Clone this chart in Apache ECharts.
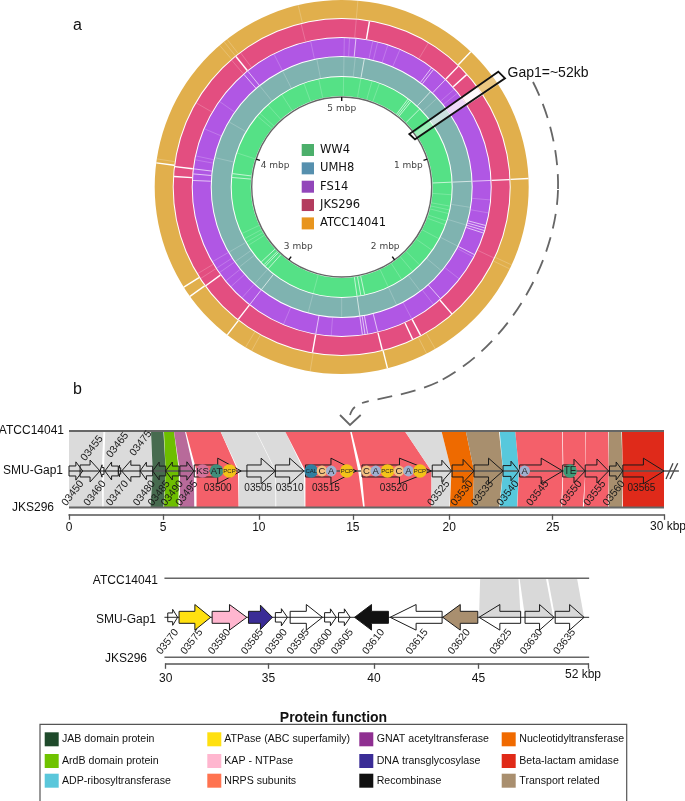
<!DOCTYPE html>
<html><head><meta charset="utf-8">
<style>html,body{margin:0;padding:0;background:#fff}#c{width:685px;height:801px}</style>
<script src="https://cdn.jsdelivr.net/npm/echarts@6/dist/echarts.min.js"></script>
</head><body><div id="c"></div>
<script>
// ---------- panel a: genome rings ----------
const ringNames = ['WW4','UMH8','FS14','JKS296','ATCC14041'];
const ringInner = [91,111,131,150,169];
const ringOuter = [110,130,149,168,187];
const mbpTicks = [1,2,3,4,5];
// gap positions on each ring, mbp (strong = clean white gap, faint = pale stripe)
const ww4Strong = [.514,.528,.542,.625,1.215,2.333,2.361,2.389,3.083,3.111,3.125,3.153,3.847,3.819];
const ww4Faint = [.014,.139,.222,.278,1.306,1.389,1.417,1.444,1.5,1.528,1.639,1.736,1.875,1.944,2.042,2.153,2.708,3.306,3.333,3.361,3.403,4.0,4.306,4.333,4.417,4.542,4.722,4.833];
const umh8Strong = [.139,.597,1.215,2.389,3.028];
const umh8Faint = [.014,.083,.653,1.375,1.486,1.625,1.806,1.986,2.153,2.5,2.708,3.083,3.222,3.264,3.333,3.931,4.167,4.458,4.625,4.847];
const fs14Strong = [.514,.528,.611,1.215,1.458,1.472,1.486,1.5,1.625,1.924,2.306,2.361,2.375,2.389,2.639,3.028,3.847,3.82,3.785,4.431,4.458,.076];
const fs14Faint = [.014,.042,.167,.194,.25,.319,.681,.708,1.319,1.389,1.639,1.778,1.972,2.111,2.556,2.819,3.083,3.167,3.208,3.264,3.292,3.333,3.896,3.917,4.069,4.236,4.625,4.833];
const jksStrong = [.132,.611,.667,1.215,1.931,2.111,2.153,2.306,2.639,3.028,3.25,3.8,3.847,4.458];
const jksFaint = [.069,.431,1.597,3.292,3.319,4.167,4.431,4.486,4.806];
const atccStrong = [.606,1.214,2.303,3.024,3.253,3.3,3.853];
const atccFaint = [.069,1.592,1.611,2.083,2.125,2.635,2.9,2.93,3.87,4.434,4.458,4.475,4.813];
const gapRegion = [.739,.79];

// ---------- panel b: genes (kbp) ----------
const tickKb1 = [0,5,10,15,20,25,30];
const tickKb2 = [30,35,40,45,52];
const geneIds1 = ['03450','03455','03460','03465','03470','03475','03480','03485','03490','03495','03500','03505','03510','03515','03520','03525','03530','03535','03540','03545','03550','03555','03560','03565'];
const geneStart1 = [0,.59,1.65,1.91,2.62,2.80,3.78,4.45,5.14,5.88,6.63,9.38,10.88,12.48,15.48,19.12,20.14,21.20,22.60,23.40,25.45,26.46,27.55,28.15];
const geneEnd1 = [.73,1.65,1.86,2.62,2.75,3.78,4.45,5.14,5.83,6.61,9.08,10.88,12.40,15.19,19.08,20.11,21.20,22.60,23.37,25.45,26.46,27.51,28.15,30];
const geneStrand1 = [1,1,-1,-1,-1,-1,-1,-1,-1,1,1,1,1,1,1,1,1,1,1,1,1,1,1,1];
const geneIds2 = ['03570','03575','03580','03585','03590','03595','03600','03605','03610','03615','03620','03625','03630','03635'];
const geneStart2 = [30.10,30.65,32.26,34.03,35.33,36.03,37.66,38.32,39.08,40.77,43.29,45.04,47.97,49.89];
const geneEnd2 = [30.58,32.19,33.95,35.19,35.90,37.56,38.21,38.87,40.69,43.26,44.97,47.69,49.82,51.73];
const geneStrand2 = [1,1,1,1,1,1,1,1,-1,-1,-1,-1,1,1];
const geneFunction2 = ['','ATPase (ABC superfamily)','KAP - NTPase','DNA transglycosylase','','','','','Recombinase','','Transport related','','',''];
// homology ribbons: [top from,to, middle from,to, bottom from,to], kbp
const ribbons1 = [
 ['none',0,1.83,0,1.74,0,1.77],['none',1.93,4.34,1.86,4.45,1.84,4.34],
 ['JAB domain protein',4.36,5.02,4.45,5.14,4.34,5.02],['ArdB domain protein',5.05,5.57,5.14,5.83,5.05,5.80],
 ['GNAT acetyltransferase',5.57,6.14,5.88,6.61,5.88,6.63],['NRPS subunits',6.19,7.99,6.75,8.91,6.75,8.94],
 ['none',7.99,9.83,8.97,10.88,8.97,10.88],['none',9.86,11.39,10.91,12.40,10.93,12.43],
 ['NRPS subunits',11.39,14.85,12.48,15.28,12.48,15.54],['NRPS subunits',14.93,17.69,15.45,19.08,15.62,19.08],
 ['none',17.69,19.6,19.08,20.11,19.08,20.0],['Nucleotidyltransferase',19.6,20.8,20.11,21.2,20.03,21.15],
 ['Transport related',20.8,22.4,21.2,22.6,21.15,22.4],['ADP-ribosyltransferase',22.44,23.19,22.6,23.37,22.44,23.27],
 ['NRPS subunits',23.19,25.42,23.37,25.45,23.29,25.38],['NRPS subunits',25.45,26.47,25.48,26.47,25.42,26.35],
 ['NRPS subunits',26.5,27.49,26.47,27.52,26.4,27.49],['Transport related',27.52,28.08,27.52,28.15,27.52,28.11],
 ['Beta-lactam amidase',28.11,30,28.15,30,28.15,30]];
const ribbons2 = [[45.11,47.55,45.04,47.69],[47.62,49.30,47.97,49.77],[49.43,51.28,49.89,51.73]];
// NRPS domains on the genes: name, kbp
const domainNames = ['KS','AT','PCP','CAL','C','A','PCP','C','A','PCP','C','A','PCP','A','TE'];
const domainAt = [7.06,7.79,8.47,12.79,13.36,13.85,14.68,15.71,16.19,16.80,17.39,17.89,18.48,23.64,25.78];

// ---------- legends ----------
const functionNames = ['JAB domain protein','ArdB domain protein','ADP-ribosyltransferase','ATPase (ABC superfamily)','KAP - NTPase','NRPS subunits','GNAT acetyltransferase','DNA transglycosylase','Recombinase','Nucleotidyltransferase','Beta-lactam amidase','Transport related'];

// ---------- styles and layout, separate from the data ----------
const ringFill = ['#55E186','#7FB3B0','#B057E4','#E34E80','#E1AF4C'];
const ringSwatch = ['#4CAF6B','#5690AE','#9246BA','#B33C5E','#E8951E'];
const functionSwatch = ['#1F4A2B','#6FC300','#5AC7DB','#FFE010','#FFB6CF','#FF7350','#8F2F91','#3A2C96','#111111','#F06A00','#E02A18','#A98F6F'];
const ribbonFill = {'none':'#DBDBDB','JAB domain protein':'#476B4F','ArdB domain protein':'#6DBE00','ADP-ribosyltransferase':'#57C8DC','GNAT acetyltransferase':'#B86A9A','NRPS subunits':'#F4606A','Nucleotidyltransferase':'#EE6A00','Transport related':'#A88F6E','Beta-lactam amidase':'#DF2A1A'};
const domainFill = {KS:'#D4719A',AT:'#3F8F7B',PCP:'#F3C318',CAL:'#2F7F9F',C:'#F3C080',A:'#9FB0D0',TE:'#3E9B78'};
const tickFrac1 = [0,.158,.319,.477,.639,.813,1];
const tickFrac2 = [0,.243,.493,.740,1];
const labelNudge = {'03450':-3,'03455':2,'03460':-7,'03465':6,'03470':-2,'03475':10,'03480':-2,'03525':-3,'03530':-1,'03535':-6,'03540':-3,'03545':-3,'03550':-3,'03555':-2,'03560':-2,'03505':-3,'03515':-5,'03520':-3,'03565':-2,'03570':-5,'03575':-3,'03580':-10,'03585':-8,'03590':-5,'03595':-8,'03600':-9,'03605':-2,'03610':2,'03615':1,'03620':-1,'03625':1,'03630':-8,'03635':-5};
const labelAbove = {'03455':.774,'03465':.817,'03475':.84};
const labelFlat = ['03500','03505','03510','03515','03520','03565'];
const SANS = '"Liberation Sans",Arial,sans-serif';

function warp(kb, ticks, frac){
  for(let i=0;i<ticks.length-1;i++){
    if(kb<=ticks[i+1]) return frac[i]+(kb-ticks[i])/(ticks[i+1]-ticks[i])*(frac[i+1]-frac[i]);
  }
  return 1;
}
const w1 = kb => warp(kb,tickKb1,tickFrac1);
const w2 = kb => warp(kb,tickKb2,tickFrac2);

// ----- ring series -----
function polarPt(api,r,a){return api.coord([r,a]);}
const series = [];
series.push({type:'custom',coordinateSystem:'polar',polarIndex:0,silent:true,z:1,
  data:ringNames.map((n,i)=>[ringInner[i],ringOuter[i],i]),
  renderItem(params,api){
    const c=params.coordSys, i=api.value(2);
    const p0=polarPt(api,api.value(0),0), p1=polarPt(api,api.value(1),0);
    return {type:'ring',shape:{cx:c.cx,cy:c.cy,r0:Math.hypot(p0[0]-c.cx,p0[1]-c.cy),r:Math.hypot(p1[0]-c.cx,p1[1]-c.cy)},style:{fill:ringFill[i]}};
  }});
function gapSeries(list,idx,color,width,op){
  series.push({type:'custom',coordinateSystem:'polar',polarIndex:0,silent:true,z:2,
    data:list.map(p=>[ringInner[idx],ringOuter[idx],p]),
    renderItem(params,api){
      const a=polarPt(api,api.value(0),api.value(2)), b=polarPt(api,api.value(1),api.value(2));
      return {type:'line',shape:{x1:a[0],y1:a[1],x2:b[0],y2:b[1]},style:{stroke:color,lineWidth:width,opacity:op}};
    }});
}
[[ww4Faint,0],[umh8Faint,1],[fs14Faint,2],[jksFaint,3],[atccFaint,4]].forEach(([l,i])=>gapSeries(l,i,'#fff',.8,.26));
[[ww4Strong,0],[umh8Strong,1],[fs14Strong,2],[jksStrong,3],[atccStrong,4]].forEach(([l,i])=>gapSeries(l,i,'#fff',i>2?1.4:1,i>2?1:.65));
// the 52 kb gap
series.push({type:'custom',coordinateSystem:'polar',polarIndex:0,silent:true,z:3,
  data:ringNames.map((n,i)=>[ringInner[i],ringOuter[i],i]),
  renderItem(params,api){
    const i=api.value(2), f=[.42,.6,.78,.96,.3][i];
    const p=[[api.value(0),gapRegion[0]],[api.value(1),gapRegion[0]],[api.value(1),gapRegion[1]],[api.value(0),gapRegion[1]]].map(q=>api.coord(q));
    return {type:'polygon',shape:{points:p},style:{fill:'#fff',opacity:f}};
  }});
// inner circle, ticks, tick labels
series.push({type:'custom',coordinateSystem:'polar',polarIndex:0,silent:true,z:4,
  data:[[90]],
  renderItem(params,api){
    const c=params.coordSys,p=api.coord([api.value(0),0]);
    return {type:'circle',shape:{cx:c.cx,cy:c.cy,r:Math.hypot(p[0]-c.cx,p[1]-c.cy)},style:{fill:'none',stroke:'#666',lineWidth:1.4}};
  }});
series.push({type:'custom',coordinateSystem:'polar',polarIndex:0,silent:true,z:4,
  data:mbpTicks.map(t=>[t]),
  renderItem(params,api){
    const t=api.value(0);
    const a=api.coord([90,t]),b=api.coord([86,t]);
    const l=api.coord(t===5?[78,t]:[t===1||t===4?70:74,t]);
    return {type:'group',children:[
      {type:'line',shape:{x1:a[0],y1:a[1],x2:b[0],y2:b[1]},style:{stroke:'#111',lineWidth:1.4}},
      {type:'text',x:l[0],y:l[1],style:{text:t+' mbp',font:'9px "DejaVu Sans"',fill:'#444',align:'center',verticalAlign:'middle'}}
    ]};
  }});

// ----- gene panels -----
function trackLine(gi,y,x0,x1,color,width,z){
  series.push({type:'custom',coordinateSystem:'cartesian2d',xAxisIndex:gi,yAxisIndex:gi,silent:true,z,
    data:[[x0,y,x1]],
    renderItem(p,api){
      const a=api.coord([api.value(0),api.value(1)]),b=api.coord([api.value(2),api.value(1)]);
      return {type:'line',shape:{x1:a[0],y1:a[1],x2:b[0],y2:b[1]},style:{stroke:color,lineWidth:width}};
    }});
}
const Y_MID1=.478, Y_MID2=.506;
// ribbons panel 1
series.push({type:'custom',coordinateSystem:'cartesian2d',xAxisIndex:0,yAxisIndex:0,silent:true,z:5,
  data:ribbons1.map(r=>r.slice(1).map(w1).concat([r[0]==='none'?-1:functionNames.indexOf(r[0])])),
  renderItem(p,api){
    const v=i=>api.value(i);
    const pts=[[v(0),1],[v(1),1],[v(3),Y_MID1],[v(5),0],[v(4),0],[v(2),Y_MID1]].map(q=>api.coord(q));
    const k=v(6);
    return {type:'polygon',shape:{points:pts},style:{fill:ribbonFill[k<0?'none':functionNames[k]]}};
  }});
series.push({type:'custom',coordinateSystem:'cartesian2d',xAxisIndex:1,yAxisIndex:1,silent:true,z:5,
  data:ribbons2.map(r=>r.map(w2)),
  renderItem(p,api){
    const v=i=>api.value(i);
    const pts=[[v(0),1],[v(1),1],[v(3),Y_MID2],[v(2),Y_MID2]].map(q=>api.coord(q));
    return {type:'polygon',shape:{points:pts},style:{fill:'#D9D9D9'}};
  }});
trackLine(0,1,0,1,'#666',2,6);trackLine(0,0,0,1,'#666',2,6);trackLine(0,Y_MID1,0,1.025,'#555',1.6,6);
trackLine(1,1,-.003,1.002,'#666',1.6,6);trackLine(1,0,-.003,1.002,'#666',1.6,6);trackLine(1,Y_MID2,-.003,1.002,'#555',1.3,6);

function geneSeries(gi,ids,starts,ends,strands,fns,warpFn,yMid,labelY){
  series.push({type:'custom',coordinateSystem:'cartesian2d',xAxisIndex:gi,yAxisIndex:gi,silent:true,z:7,
    data:ids.map((id,i)=>[warpFn(starts[i]),warpFn(ends[i]),strands[i],i]),
    renderItem(p,api){
      const x0=api.coord([api.value(0),yMid]),x1=api.coord([api.value(1),yMid]),s=api.value(2),i=api.value(3);
      const y=x0[1],len=x1[0]-x0[0],head=Math.min(len*.5,32),hh=Math.min(12.8,5+.3*len),bh=Math.min(6,hh*.55);
      const from=s>0?x0[0]:x1[0],to=s>0?x1[0]:x0[0],mid=to-s*head;
      const pts=[[from,y-bh],[mid,y-bh],[mid,y-hh],[to,y],[mid,y+hh],[mid,y+bh],[from,y+bh]];
      const fn=fns?fns[i]:'';
      const fill=fn?functionSwatch[functionNames.indexOf(fn)]:'none';
      return {type:'polygon',shape:{points:pts},style:{fill,stroke:'#1a1a1a',lineWidth:1}};
    }});
  series.push({type:'custom',coordinateSystem:'cartesian2d',xAxisIndex:gi,yAxisIndex:gi,silent:true,z:9,
    data:ids.map((id,i)=>[warpFn((starts[i]+ends[i])/2),i]),
    renderItem(p,api){
      const id=ids[api.value(1)],flat=labelFlat.includes(id);
      const ly=flat?.256:(labelAbove[id]!==undefined?labelAbove[id]:labelY);
      const q=api.coord([api.value(0),ly]);
      return {type:'text',x:q[0]+(labelNudge[id]||0),y:q[1],rotation:flat?0:52*Math.PI/180,
        style:{text:id,font:(flat?'10px ':'10.5px ')+SANS,fill:'#1a1a1a',align:'center',verticalAlign:'middle'}};
    }});
}
geneSeries(0,geneIds1,geneStart1,geneEnd1,geneStrand1,null,w1,Y_MID1,.187);
geneSeries(1,geneIds2,geneStart2,geneEnd2,geneStrand2,geneFunction2,w2,Y_MID2,.196);
// domains
series.push({type:'custom',coordinateSystem:'cartesian2d',xAxisIndex:0,yAxisIndex:0,silent:true,z:8,
  data:domainAt.map((k,i)=>[w1(k),i]),
  renderItem(p,api){
    const q=api.coord([api.value(0),Y_MID1]),n=domainNames[api.value(1)];
    const fs=n==='PCP'?6:n==='CAL'?6:n==='TE'?10:9.5;
    const big=n==='KS'||n==='AT'||n==='TE'||n==='PCP'||n==='CAL';
    return {type:'group',children:[
      {type:'circle',shape:{cx:q[0],cy:q[1],r:big?6.8:5.4},style:{fill:domainFill[n]}},
      {type:'text',x:q[0],y:q[1],style:{text:n,font:fs+'px '+SANS,fill:'#222',align:'center',verticalAlign:'middle'}}
    ]};
  }});

// ----- free graphics: labels, callout, legends -----
const g=[];
const txt=(text,x,y,font,align,fill)=>g.push({type:'text',x,y,silent:true,style:{text,font:font,fill:fill||'#111',align:align||'left',verticalAlign:'middle'}});
txt('a',73,26,'16px '+SANS);
txt('b',73,390,'16px '+SANS);
txt('Gap1=~52kb',507.5,73,'14px '+SANS);
g.push({type:'polygon',shape:{points:[[409.3,134],[415,139.3],[505,78.3],[498.3,71.7]]},style:{fill:'none',stroke:'#111',lineWidth:1.8},z:20});
const dashed={fill:'none',stroke:'#666',lineWidth:1.8,lineDash:[15,9]};
[[533,82,550,115,559,155,558,190],[558,190,556,260,510,345,438,382],[438,382,410,395,378,398,362,403]].forEach(b=>{
  g.push({type:'bezierCurve',shape:{x1:b[0],y1:b[1],cpx1:b[2],cpy1:b[3],cpx2:b[4],cpy2:b[5],x2:b[6],y2:b[7]},style:dashed});
});
g.push({type:'bezierCurve',shape:{x1:355,y1:407,cpx1:352,cpy1:409,cpx2:351,cpy2:412,x2:350,y2:415},style:{fill:'none',stroke:'#666',lineWidth:1.8}});
g.push({type:'polyline',shape:{points:[[340,415],[350,425],[360.7,415]]},style:{fill:'none',stroke:'#666',lineWidth:1.8}});
// ring legend
ringNames.forEach((n,i)=>{
  const y=150+18.35*i;
  g.push({type:'rect',shape:{x:301.7,y:y-6,width:12.3,height:12},style:{fill:ringSwatch[i]}});
  txt(n,320,y,'11.5px "DejaVu Sans"');
});
// track names
txt('ATCC14041',64,431,'12px '+SANS,'right');txt('SMU-Gap1',63,471,'12px '+SANS,'right');txt('JKS296',54,508,'12px '+SANS,'right');
txt('ATCC14041',158,581,'12px '+SANS,'right');txt('SMU-Gap1',156,620,'12px '+SANS,'right');txt('JKS296',147,659,'12px '+SANS,'right');
txt('30 kbp',650,527,'12px '+SANS);txt('52 kbp',565,675,'12px '+SANS);
// break marks
[[666,479,673,463.3],[670,479,677.7,463.3]].forEach(b=>g.push({type:'line',shape:{x1:b[0],y1:b[1],x2:b[2],y2:b[3]},style:{stroke:'#444',lineWidth:1.3}}));
// protein function legend
txt('Protein function',333.5,718,'bold 14px '+SANS,'center');
g.push({type:'rect',shape:{x:40,y:724.4,width:586.7,height:79},style:{fill:'none',stroke:'#555',lineWidth:1.2}});
const swatchX=[44.7,207.3,359.3,501.7],textX=[62,224.3,376.7,519.3],rowY=[739.3,761,780.7];
functionNames.forEach((n,i)=>{
  const c=Math.floor(i/3),y=rowY[i%3];
  g.push({type:'rect',shape:{x:swatchX[c],y:y-7,width:14,height:14},style:{fill:functionSwatch[i]}});
  txt(n,textX[c],y,'10.6px '+SANS);
});

const lab=(t,f)=>v=>{const i=f.findIndex(x=>Math.abs(x-v)<1e-6);return i<0?'':String(t[i]);};
const axisCommon={type:'value',min:0,max:1,splitLine:{show:false},axisLine:{onZero:false,lineStyle:{color:'#555',width:1.5}}};
const option={animation:false,backgroundColor:'#fff',
  polar:{center:[341.7,187],radius:[0,187]},
  angleAxis:{type:'value',min:0,max:5,startAngle:90,clockwise:true,show:false},
  radiusAxis:{type:'value',min:0,max:187,show:false},
  grid:[
    {left:69,width:595,top:431,height:83.3},
    {left:165.7,width:422.6,top:578.3,height:85}],
  xAxis:[
    Object.assign({},axisCommon,{gridIndex:0,axisTick:{show:true,length:5.5,lineStyle:{color:'#555',width:1.3},customValues:tickFrac1},axisLabel:{margin:7,fontSize:12,fontFamily:SANS,color:'#111',customValues:tickFrac1.slice(0,-1),formatter:lab(tickKb1,tickFrac1)}}),
    Object.assign({},axisCommon,{gridIndex:1,axisTick:{show:true,length:5.5,lineStyle:{color:'#555',width:1.3},customValues:tickFrac2},axisLabel:{margin:9,fontSize:12,fontFamily:SANS,color:'#111',customValues:tickFrac2.slice(0,-1),formatter:lab(tickKb2,tickFrac2)}})],
  yAxis:[
    {type:'value',gridIndex:0,min:-.0875,max:1,show:false},
    {type:'value',gridIndex:1,min:-.076,max:1,show:false}],
  series,
  graphic:{elements:g}
};
const chart=echarts.init(document.getElementById('c'),null,{renderer:'canvas'});
chart.setOption(option);
</script></body></html>
